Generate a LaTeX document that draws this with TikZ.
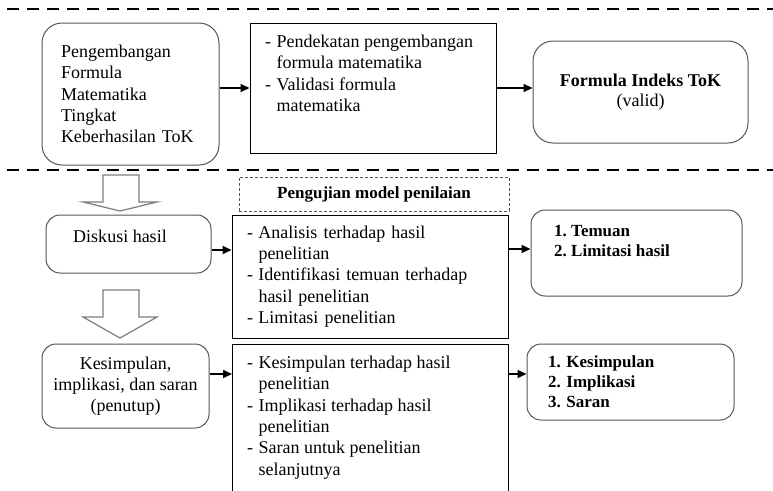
\documentclass[tikz,border=0pt]{standalone}
\usepackage{fontspec}
\setmainfont{Liberation Serif}
\usetikzlibrary{arrows.meta,positioning}
\definecolor{boxgray}{RGB}{85,85,85}
\definecolor{arrgray}{RGB}{125,125,125}
\frenchspacing

\tikzset{
  txt/.style={font=\fontsize{18}{21.3}\selectfont},
  btxt/.style={font=\fontsize{17}{20}\selectfont\bfseries},
  roundbox/.style={draw=boxgray, line width=1pt, rounded corners=14pt},
  plainbox/.style={draw=black, line width=1pt},
  sepline/.style={line width=2.4pt, dash pattern=on 12pt off 8pt, dash phase=-7pt},
  link/.style={-{Triangle[length=9pt,width=8pt]}, line width=1.6pt},
  downarr/.style={draw=arrgray, line width=1.2pt},
}
\newcommand{\itm}{\makebox[11.5pt][l]{-}}
\newcommand{\hng}{\hspace*{11.5pt}}

\begin{document}
\begin{tikzpicture}[x=1pt, y=-1pt]
  \useasboundingbox (0,0) rectangle (773,490);
  \clip (0,0) rectangle (773,490);

  % separators
  \draw[sepline] (0,9) -- (773,9);
  \draw[sepline] (0,170) -- (773,170);

  % top row
  \node[roundbox, txt, rounded corners=20pt, minimum width=177pt, minimum height=142pt,
        text width=139pt, inner xsep=19pt, align=left] (pgm) at (130.5,94)
    {Pengembangan\\ Formula\\ Matematika\\ Tingkat\\ Keberhasilan ToK};
  \node[plainbox, minimum width=246pt, minimum height=130pt] (pdk) at (373,88) {};
  \node[txt, align=left, anchor=north west, inner sep=0pt] (pdktxt) at (265,35)
    {\itm Pendekatan pengembangan\\ \hng formula matematika\\ \itm Validasi formula\\ \hng matematika};
  \node[roundbox, rounded corners=20pt, font=\fontsize{18}{20}\selectfont,
        minimum width=215pt, minimum height=102pt, align=center] (idx) at (640.5,92)
    {\textbf{Formula Indeks ToK}\\ (valid)};

  % down arrows
  \foreach \ya/\yb/\yc in {175/202/211, 290/317/338}
    \draw[downarr] (103,\ya) -- (139,\ya) -- (139,\yb) -- (157,\yb) -- (120,\yc)
      -- (83,\yb) -- (103,\yb) -- cycle;

  % discussion row
  \node[draw=boxgray, line width=0.8pt, dash pattern=on 3pt off 2pt, btxt,
        minimum width=270pt, minimum height=34pt] (uji) at (374,194) {Pengujian model penilaian};
  \node[roundbox, minimum width=165pt, minimum height=58pt] (dsk) at (128.5,244) {};
  \node[txt, anchor=base, inner sep=0pt] (dsktxt) at (120,242) {Diskusi hasil};
  \node[plainbox, txt, minimum width=276pt, minimum height=123pt, text width=246pt,
        inner xsep=15pt, align=left] (anl) at (370,276.5)
    {\itm Analisis terhadap hasil\\ \hng penelitian\\ \itm Identifikasi temuan terhadap\\
     \hng hasil penelitian\\ \itm Limitasi penelitian};
  \node[roundbox, minimum width=211pt, minimum height=86pt] (tmn) at (636.5,253) {};
  \node[btxt, align=left, anchor=north west, inner sep=0pt] (tmntxt) at (554,225)
    {1. Temuan\\ 2. Limitasi hasil};

  % closing row
  \node[roundbox, txt, minimum width=167pt, minimum height=84pt, align=center] (ksp) at (125.5,386)
    {Kesimpulan,\\ implikasi, dan saran\\ (penutup)};
  \node[plainbox, minimum width=276pt, minimum height=160pt, anchor=north west] (srn) at (232,344) {};
  \node[txt, align=left, anchor=north west, inner sep=0pt] (srntxt) at (247,356)
    {\itm Kesimpulan terhadap hasil\\ \hng penelitian\\ \itm Implikasi terhadap hasil\\
     \hng penelitian\\ \itm Saran untuk penelitian\\ \hng selanjutnya};
  \node[roundbox, btxt, minimum width=207pt, minimum height=76pt, text width=165pt,
        inner xsep=21pt, align=left] (hsl) at (630.5,382)
    {1. Kesimpulan\\ 2. Implikasi\\ 3. Saran};

  % connectors
  \draw[link] (pgm.east |- pdk.west) -- (pdk.west);
  \draw[link] (pdk.east) -- (idx.west |- pdk.east);
  \coordinate (dskout) at ([yshift=-6pt]dsk.east);
  \draw[link] (dskout) -- (dskout -| anl.west);
  \coordinate (anlout) at ([yshift=27.5pt]anl.east);
  \draw[link] (anlout) -- (anlout -| tmn.west);
  \coordinate (kspout) at ([yshift=12pt]ksp.east);
  \draw[link] (kspout) -- (kspout -| srn.west);
  \coordinate (srnout) at ([yshift=-30pt]srn.north east);
  \draw[link] (srnout) -- (srnout -| hsl.west);
\end{tikzpicture}
\end{document}
